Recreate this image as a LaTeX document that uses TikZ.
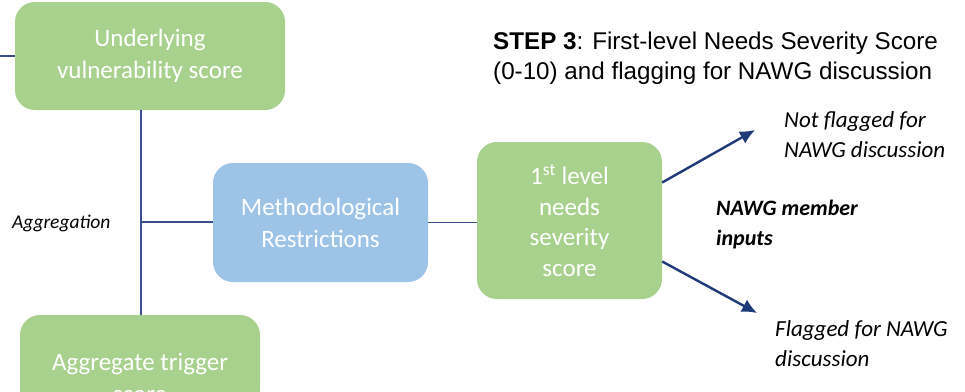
\documentclass[tikz,border=0pt]{standalone}
\usepackage{fontspec}
\setmainfont{Carlito}
\newfontfamily\headfont{Liberation Sans}
\usetikzlibrary{arrows.meta}
\definecolor{scoregreen}{HTML}{A9D18E}
\definecolor{rulesblue}{HTML}{9DC3E6}
\definecolor{linknavy}{HTML}{3A4F8E}
\definecolor{flagnavy}{HTML}{1F3A78}
\tikzset{
  scorebox/.style={rounded corners=20pt, fill=scoregreen, text=white, align=center,
    inner sep=0pt, font=\fontsize{25}{32}\selectfont},
  rulesbox/.style={scorebox, fill=rulesblue},
  link/.style={draw=linknavy, line width=1.4pt},
  flag/.style={draw=flagnavy, line width=2.4pt, -{Latex[length=15pt,width=14pt]}},
  remark/.style={align=left, inner sep=0pt, font=\fontsize{23}{30}\selectfont\itshape}
}
\begin{document}
\begin{tikzpicture}[x=1pt, y=-1pt]
  \useasboundingbox (0,0) rectangle (965,391);
  \fill[white] (0,0) rectangle (965,391);
  % score boxes on the left
  \node[scorebox, minimum width=270pt, minimum height=108pt] (under) at (150,56)
    {Underlying\\vulnerability score};
  \node[scorebox, minimum width=240pt, minimum height=126pt] (trigger) at (140,378)
    {Aggregate trigger\\score};
  \coordinate (feed) at (0,56);
  \coordinate (agg) at (141,222);
  \node[remark, anchor=west, font=\fontsize{19.5}{24}\selectfont\itshape] (agglabel) at (12,223)
    {Aggregation};
  % restrictions and first-level score
  \node[rulesbox, minimum width=215pt, minimum height=119pt] (rules) at (320.5,222.5)
    {Methodological\\Restrictions};
  \node[scorebox, minimum width=185pt, minimum height=157pt,
    font=\fontsize{25}{30.5}\selectfont] (first) at (569.5,220.5)
    {1\textsuperscript{st} level\\needs\\severity\\score};
  \draw[link] (feed) -- (under.west);
  \draw[link] (under.south -| agg) -- (trigger.north -| agg);
  \draw[link] (agg) -- (agg -| rules.west);
  \draw[link] (rules.east) -- (rules.east -| first.west);
  % step heading
  \node[anchor=west, align=left, inner sep=0pt, font=\headfont\fontsize{24.2}{30}\selectfont]
    (head) at (493,58) {\textbf{STEP 3}: First-level Needs Severity Score\\(0-10) and flagging for NAWG discussion};
  % flagging outcomes
  \coordinate (notflag) at (755,130);
  \coordinate (isflag) at (757,313);
  \draw[flag] ([yshift=38pt]first.east) -- (notflag);
  \draw[flag] ([yshift=-41pt]first.east) -- (isflag);
  \node[remark, anchor=west] (notlabel) at (784,135) {Not flagged for\\NAWG discussion};
  \node[remark, anchor=west, font=\fontsize{22}{30}\selectfont\bfseries\itshape] (inputs) at (716,225)
    {NAWG member\\inputs};
  \node[remark, anchor=west] (flaglabel) at (775,344) {Flagged for NAWG\\discussion};
\end{tikzpicture}
\end{document}
